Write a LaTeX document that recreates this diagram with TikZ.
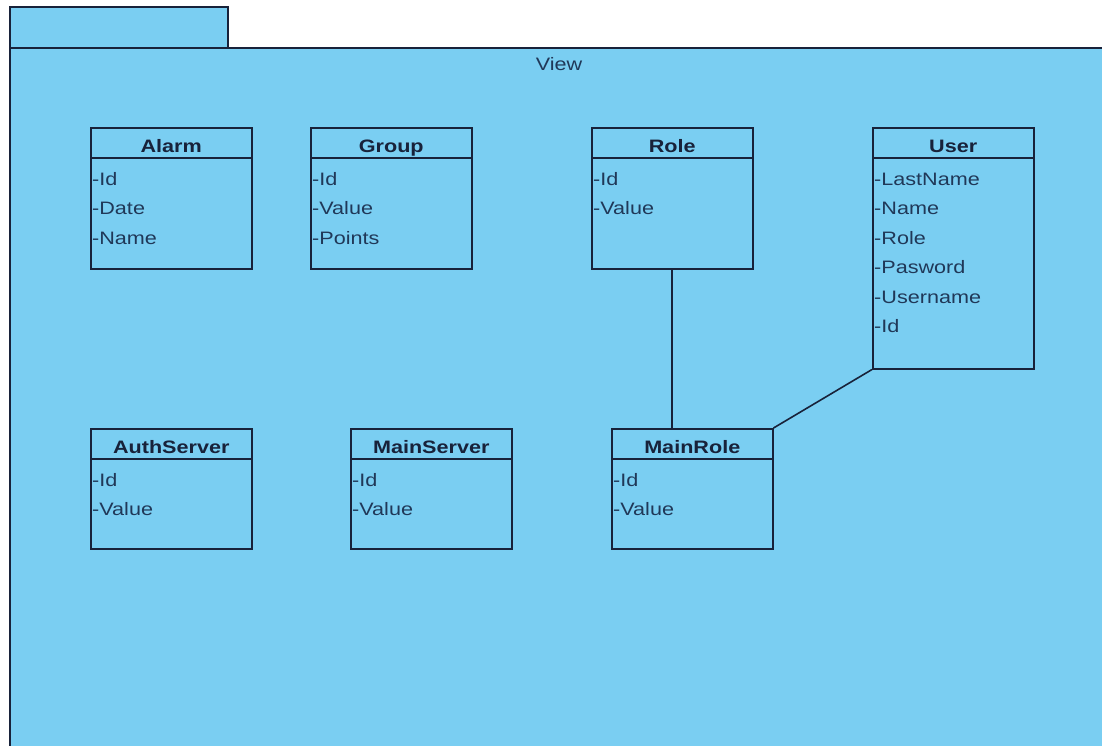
\documentclass[tikz,border=0pt]{standalone}
\usepackage{fontspec}
\setmainfont[FakeStretch=1.2]{Liberation Sans}
\usepackage{xcolor}
\usetikzlibrary{positioning}

\definecolor{pkgblue}{RGB}{122,206,242}
\definecolor{pkgline}{RGB}{24,34,58}
\definecolor{attrtext}{RGB}{32,56,88}

\tikzset{
	pkg/.style={fill=pkgblue, draw=pkgline, line width=1.5pt},
	umlclass/.style={draw=pkgline, line width=1.5pt, minimum width=161pt, anchor=north west, inner sep=0pt},
	sepline/.style={draw=pkgline, line width=1.5pt},
	classtitle/.style={font=\fontsize{18}{21}\selectfont\bfseries, text=pkgline, inner sep=0pt, anchor=base},
	attr/.style={font=\fontsize{18}{21}\selectfont, text=attrtext, inner sep=0pt, anchor=base west},
	assoc/.style={draw=pkgline, line width=1.6pt},
}

\begin{document}
\begin{tikzpicture}[x=1pt,y=-1pt]
	\useasboundingbox (0,0) rectangle (1102,745);
	
	% package
	\begin{scope}
		\clip (0,0) rectangle (1102,745);
		\draw[pkg] (10,7) rectangle (228,48);
		\draw[pkg] (10,48) rectangle (1120,765);
	\end{scope}
	\node[font=\fontsize{18}{21}\selectfont, text=attrtext, inner sep=0pt, anchor=base] (view) at (559,70) {View};
	
	% classes
	\node[umlclass, minimum height=141pt] (alarm) at (90,127) {};
	\node[umlclass, minimum height=141pt] (group) at (310,127) {};
	\node[umlclass, minimum height=141pt] (role) at (591,127) {};
	\node[umlclass, minimum height=241pt] (user) at (872,127) {};
	\node[umlclass, minimum height=120pt] (authserver) at (90,428) {};
	\node[umlclass, minimum height=120pt] (mainserver) at (350,428) {};
	\node[umlclass, minimum height=120pt] (mainrole) at (611,428) {};
	
	\foreach \c/\t in {alarm/Alarm, group/Group, role/Role, user/User, authserver/AuthServer, mainserver/MainServer, mainrole/MainRole} {
		\draw[sepline] ([yshift=-31pt]\c.north west) -- ([yshift=-31pt]\c.north east);
		\node[classtitle] (\c-title) at ([yshift=-25pt]\c.north) {\t};
	}
	
	% attributes
	\foreach \a [count=\i] in {Id,Date,Name}
		\node[attr] (alarm-\i) at ([xshift=2pt,yshift={-58pt-29.5pt*(\i-1)}]alarm.north west) {-\a};
	\foreach \a [count=\i] in {Id,Value,Points}
		\node[attr] (group-\i) at ([xshift=2pt,yshift={-58pt-29.5pt*(\i-1)}]group.north west) {-\a};
	\foreach \a [count=\i] in {Id,Value}
		\node[attr] (role-\i) at ([xshift=2pt,yshift={-58pt-29.5pt*(\i-1)}]role.north west) {-\a};
	\foreach \a [count=\i] in {LastName,Name,Role,Pasword,Username,Id}
		\node[attr] (user-\i) at ([xshift=2pt,yshift={-58pt-29.5pt*(\i-1)}]user.north west) {-\a};
	\foreach \a [count=\i] in {Id,Value}
		\node[attr] (authserver-\i) at ([xshift=2pt,yshift={-58pt-29.5pt*(\i-1)}]authserver.north west) {-\a};
	\foreach \a [count=\i] in {Id,Value}
		\node[attr] (mainserver-\i) at ([xshift=2pt,yshift={-58pt-29.5pt*(\i-1)}]mainserver.north west) {-\a};
	\foreach \a [count=\i] in {Id,Value}
		\node[attr] (mainrole-\i) at ([xshift=2pt,yshift={-58pt-29.5pt*(\i-1)}]mainrole.north west) {-\a};
	
	% associations
	\draw[assoc] ([xshift=-0.5pt]role.south) -- ([xshift=-0.5pt]role.south |- mainrole.north);
	\draw[assoc] (user.south west) -- (mainrole.north east);
\end{tikzpicture}
\end{document}
